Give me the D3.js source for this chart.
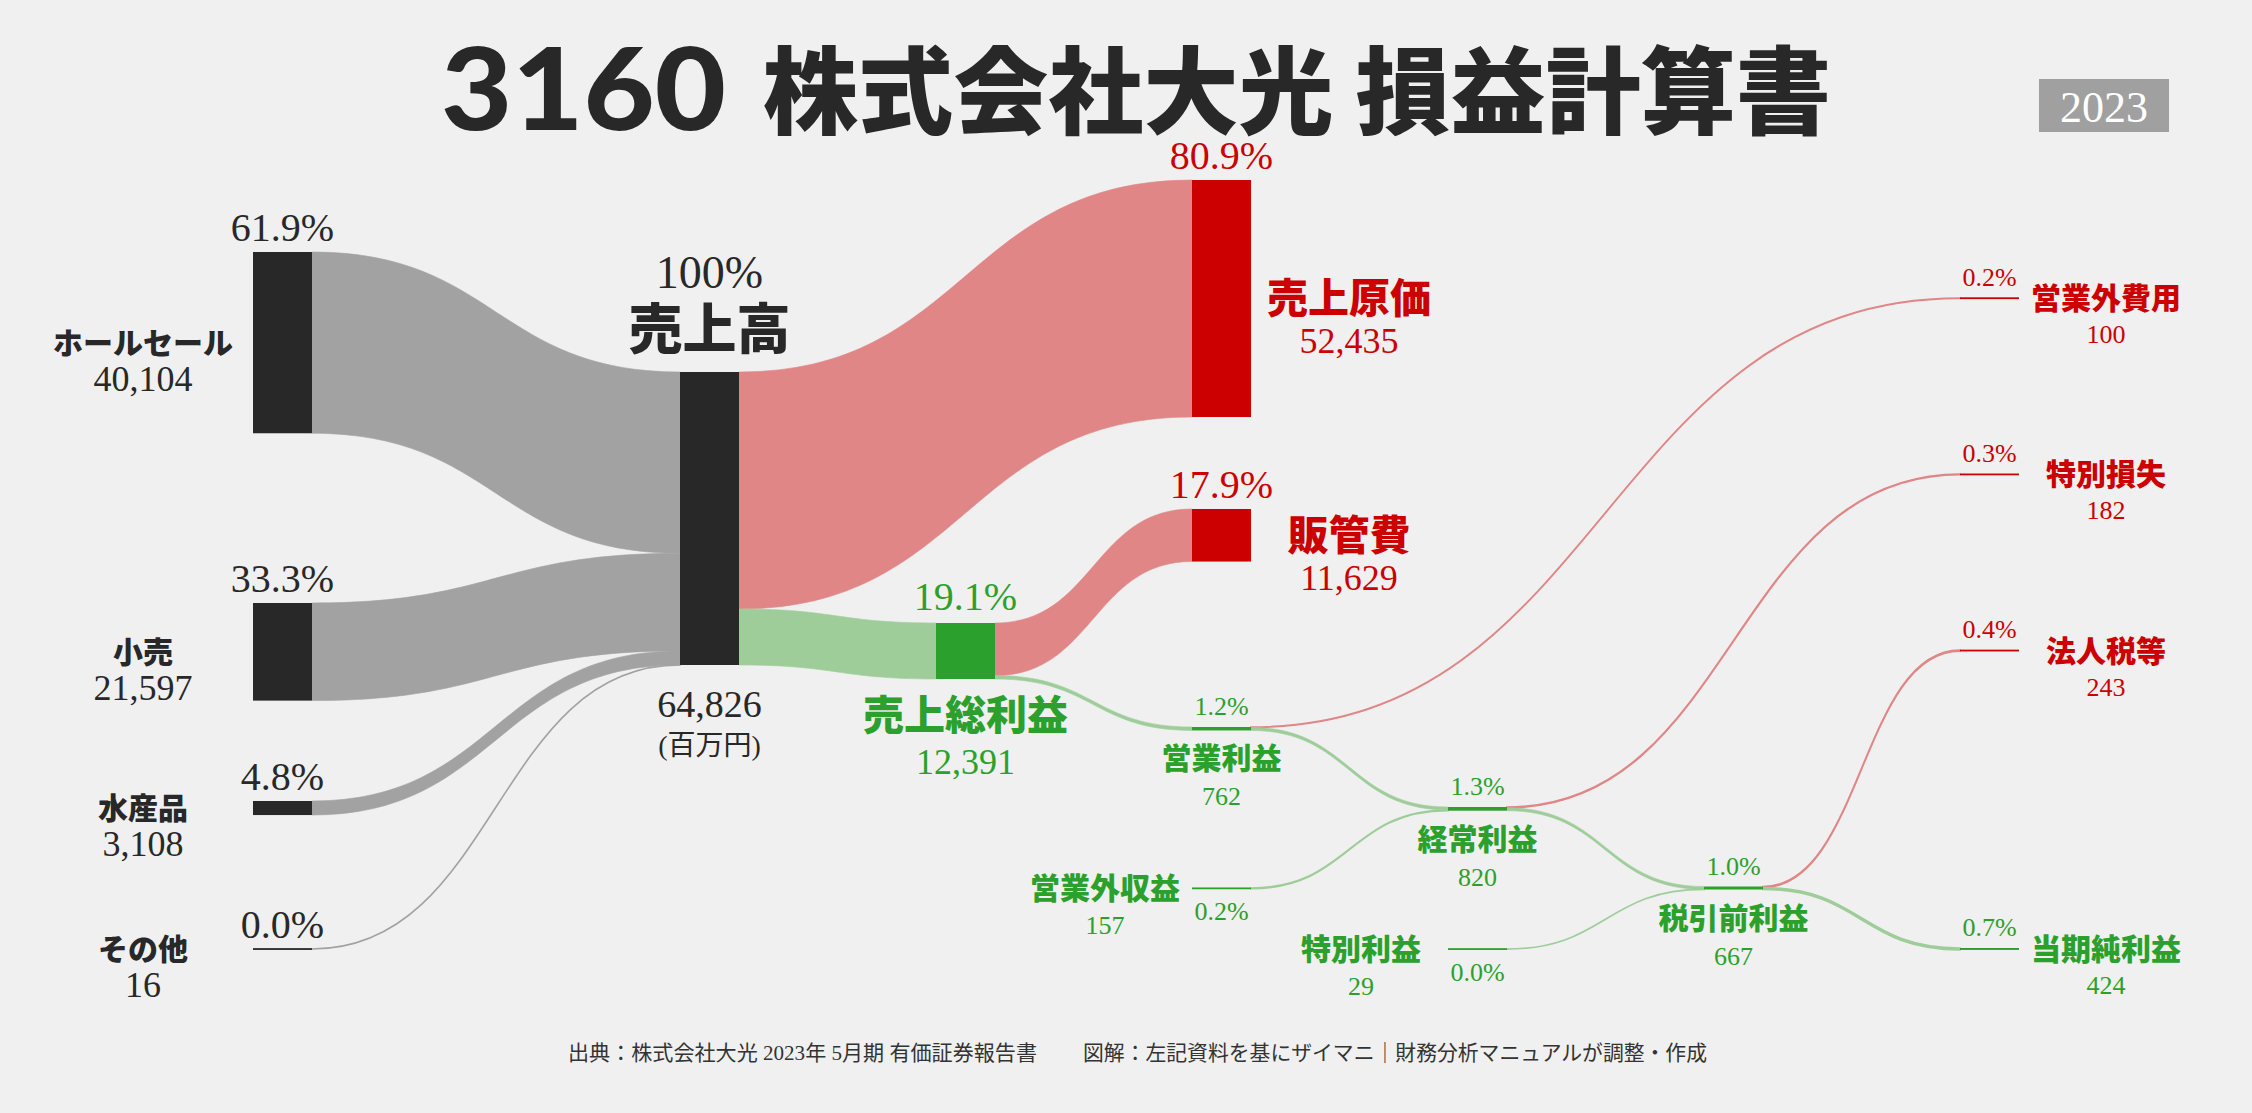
<!DOCTYPE html>
<meta charset="utf-8">
<style>
    body {
        margin: 0;
        background: #f0f0f0;
    }

    .num {
        font-family: "Liberation Serif", "Noto Sans CJK JP", serif;
    }

    .name {
        font-family: "Noto Sans CJK JP", sans-serif;
        font-weight: 900;
    }

    .title {
        font-family: "Noto Sans CJK JP", sans-serif;
        font-weight: 900;
        font-size: 95px;
        fill: #282828;
    }

    .code {
        font-family: Lato, "Noto Sans", sans-serif;
        font-weight: 900;
        font-size: 114px;
        fill: #282828;
    }

    .foot {
        font-family: "Liberation Serif", "Noto Sans CJK JP", serif;
        font-size: 21px;
        fill: #333;
    }
</style>

<body>
    <script src="https://d3js.org/d3.v7.min.js"></script>
    <script>
      // ---- data (百万円) ----
      var nodeNames = ["ホールセール", "小売", "水産品", "その他", "売上高", "売上原価", "売上総利益", "販管費",
        "営業利益", "営業外収益", "営業外費用", "経常利益", "特別利益", "特別損失", "税引前利益", "法人税等", "当期純利益"];
      var nodeValues = [40104, 21597, 3108, 16, 64826, 52435, 12391, 11629,
        762, 157, 100, 820, 29, 182, 667, 243, 424];
      var nodeKinds = ["rev", "rev", "rev", "rev", "rev", "cost", "profit", "cost",
        "profit", "profit", "cost", "profit", "profit", "cost", "profit", "cost", "profit"];

      var linkSources = ["ホールセール", "小売", "水産品", "その他", "売上高", "売上高", "売上総利益", "売上総利益",
        "営業利益", "営業利益", "営業外収益", "経常利益", "経常利益", "特別利益", "税引前利益", "税引前利益"];
      var linkTargets = ["売上高", "売上高", "売上高", "売上高", "売上原価", "売上総利益", "販管費", "営業利益",
        "営業外費用", "経常利益", "経常利益", "特別損失", "税引前利益", "税引前利益", "法人税等", "当期純利益"];
      var linkValues = [40104, 21597, 3108, 16, 52435, 12391, 11629, 762,
        100, 662, 157, 182, 638, 29, 243, 424];

      var total = 64826;

      // ---- layout: column, top of node, label placement ----
      var layout = {
        "ホールセール": {col: 0, top: 252, place: "left"},
        "小売": {col: 0, top: 603, place: "left"},
        "水産品": {col: 0, top: 801, place: "left"},
        "その他": {col: 0, top: 949, place: "left"},
        "売上高": {col: 1, top: 372, place: "total"},
        "売上原価": {col: 3, top: 180, place: "right", size: "big"},
        "販管費": {col: 3, top: 509, place: "right", size: "big"},
        "売上総利益": {col: 2, top: 623, place: "below", size: "big"},
        "営業利益": {col: 3, top: 727, place: "below"},
        "営業外収益": {col: 3, top: 888, place: "inLeft"},
        "経常利益": {col: 4, top: 807, place: "below"},
        "特別利益": {col: 4, top: 949, place: "inLeft"},
        "税引前利益": {col: 5, top: 886.5, place: "below"},
        "営業外費用": {col: 6, top: 298, place: "right"},
        "特別損失": {col: 6, top: 474, place: "right"},
        "法人税等": {col: 6, top: 650, place: "right"},
        "当期純利益": {col: 6, top: 948, place: "right"}
      };

      var colors = {
        rev: {node: "#282828", link: "#a2a2a2", text: "#282828"},
        cost: {node: "#cc0000", link: "#e08686", text: "#cc0000"},
        profit: {node: "#2ca02c", link: "#9ecd9a", text: "#2ca02c"}
      };

      var nodeW = 59;
      var colX = d3.scaleLinear().domain([0, 1, 6]).range([253, 680, 1960]);
      var vScale = d3.scaleLinear().domain([0, total]).range([0, 293]);
      var fmt = d3.format(",");
      var pct = d3.format(".1%");

      var svg = d3.select("body").append("svg").attr("width", 2252).attr("height", 1113);
      svg.append("rect").attr("width", 2252).attr("height", 1113).attr("fill", "#f0f0f0");

      // title + year badge
      svg.append("text").attr("class", "code").attr("x", 441).attr("y", 130)
          .attr("textLength", 285).attr("lengthAdjust", "spacingAndGlyphs")
          .text("3160");
      svg.append("text").attr("class", "title").attr("x", 763).attr("y", 127)
          .attr("textLength", 1068).attr("lengthAdjust", "spacingAndGlyphs")
          .text("株式会社大光 損益計算書");
      svg.append("rect").attr("x", 2039).attr("y", 79).attr("width", 130).attr("height", 53).attr("fill", "#a0a0a0");
      svg.append("text").attr("class", "num").attr("x", 2104).attr("y", 122)
          .attr("text-anchor", "middle").attr("font-size", 44).attr("fill", "#fff").text("2023");

      var nodes = nodeNames.map(function(name, i) {
        var l = layout[name];
        return {
          name: name, value: nodeValues[i], kind: nodeKinds[i],
          x: colX(l.col), top: l.top, h: vScale(nodeValues[i]),
          place: l.place, size: l.size || "small", outOff: 0, inOff: 0
        };
      });
      var byName = {};
      nodes.forEach(function(d) { byName[d.name] = d; });

      var links = linkSources.map(function(s, i) {
        var src = byName[s], tgt = byName[linkTargets[i]];
        var w = vScale(linkValues[i]);
        var l = {
          x0: src.x + nodeW, y0: src.top + src.outOff,
          x1: tgt.x, y1: tgt.top + tgt.inOff,
          w: w, kind: tgt.kind
        };
        src.outOff += w;
        tgt.inOff += w;
        return l;
      });

      function ribbon(d) {
        var p = d3.path(), xm = (d.x0 + d.x1) / 2;
        p.moveTo(d.x0, d.y0);
        p.bezierCurveTo(xm, d.y0, xm, d.y1, d.x1, d.y1);
        p.lineTo(d.x1, d.y1 + d.w);
        p.bezierCurveTo(xm, d.y1 + d.w, xm, d.y0 + d.w, d.x0, d.y0 + d.w);
        p.closePath();
        return p.toString();
      }

      svg.append("g").selectAll("path").data(links).join("path")
          .attr("d", ribbon)
          .attr("fill", d => colors[d.kind].link)
          .attr("stroke", d => colors[d.kind].link)
          .attr("stroke-width", d => d.w < 2 ? 1.6 : 0.6);

      svg.append("g").selectAll("rect").data(nodes).join("rect")
          .attr("x", d => d.x)
          .attr("y", d => d.top + d.h / 2 - Math.max(d.h, 1.8) / 2)
          .attr("width", nodeW)
          .attr("height", d => Math.max(d.h, 1.8))
          .attr("fill", d => colors[d.kind].node);

      // ---- labels ----
      function label(g, cls, x, y, size, txt) {
        g.append("text").attr("class", cls).attr("x", x).attr("y", y)
            .attr("text-anchor", "middle").attr("font-size", size).text(txt);
      }

      nodes.forEach(function(d) {
        var g = svg.append("g").attr("fill", colors[d.kind].text);
        var cx = d.x + nodeW / 2;
        var mid = d.top + d.h / 2;
        var bottom = d.top + Math.max(d.h, 1.8);
        var big = d.size === "big";
        var p = pct(d.value / total);

        if (d.place === "left") {
          label(g, "num", cx, d.top - 11, 40, p);
          label(g, "name", d.x - 110, mid + 11, 30, d.name);
          label(g, "num", d.x - 110, mid + 48, 36, fmt(d.value));
        } else if (d.place === "total") {
          label(g, "num", cx, d.top - 84, 46, "100%");
          label(g, "name", cx, d.top - 23, 54, d.name);
          label(g, "num", cx, bottom + 52, 38, fmt(d.value));
          label(g, "num", cx, bottom + 90, 28, "(百万円)");
        } else if (d.place === "right") {
          var nx = d.x + nodeW + (big ? 98 : 87);
          label(g, "num", cx, d.top - (big ? 11 : 12), big ? 40 : 26, p);
          label(g, "name", nx, mid + (big ? 15 : 11), big ? 41 : 30, d.name);
          label(g, "num", nx, mid + (big ? 55 : 45), big ? 36 : 26, fmt(d.value));
        } else if (d.place === "below") {
          label(g, "num", cx, d.top - (big ? 13 : 12), big ? 40 : 26, p);
          label(g, "name", cx, bottom + (big ? 51 : 39), big ? 41 : 30, d.name);
          label(g, "num", cx, bottom + (big ? 95 : 75), big ? 36 : 26, fmt(d.value));
        } else if (d.place === "inLeft") {
          label(g, "num", cx, mid + 32, 26, p);
          label(g, "name", d.x - 87, mid + 11, 30, d.name);
          label(g, "num", d.x - 87, mid + 46, 26, fmt(d.value));
        }
      });

      // footer
      svg.append("text").attr("class", "foot").attr("x", 568).attr("y", 1060)
          .attr("textLength", 469).attr("lengthAdjust", "spacingAndGlyphs")
          .text("出典：株式会社大光 2023年 5月期 有価証券報告書");
      svg.append("text").attr("class", "foot").attr("x", 1083).attr("y", 1060)
          .attr("textLength", 624).attr("lengthAdjust", "spacingAndGlyphs")
          .text("図解：左記資料を基にザイマニ｜財務分析マニュアルが調整・作成");
    </script>
</body>

</html>
